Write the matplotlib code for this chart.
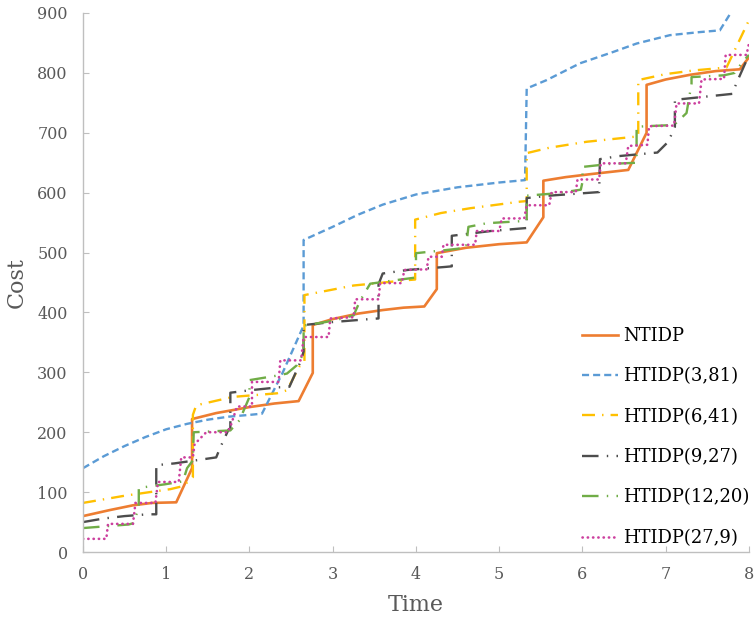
import matplotlib
matplotlib.use("Agg")
import matplotlib.pyplot as plt

# values (time, cost)
nt_t = [0, 0.32, 0.6, 0.83, 1.12, 1.31, 1.31, 1.6, 2.0, 2.3, 2.59, 2.76, 2.76, 3.0, 3.3, 3.6, 3.85, 4.1,
        4.25, 4.25, 4.6, 5.0, 5.33, 5.53, 5.53, 5.8, 6.1, 6.55, 6.77, 6.77, 7.0, 7.3, 7.6, 7.89, 8.0]
nt_c = [60, 70, 78, 82, 83, 140, 222, 232, 242, 248, 252, 299, 379, 389, 398, 404, 408, 410,
        439, 499, 508, 514, 517, 559, 620, 626, 631, 638, 700, 780, 789, 797, 803, 806, 826]

h3_t = [0, 0.25, 0.5, 0.75, 1.0, 1.25, 1.5, 1.75, 2.0, 2.15, 2.4, 2.65, 2.65, 3.0, 3.3, 3.6,
        4.0, 4.5, 5.0, 5.31, 5.33, 5.57, 5.97, 6.37, 6.65, 7.05, 7.4, 7.65, 7.78]
h3_c = [140, 160, 177, 192, 205, 214, 221, 226, 229, 231, 300, 378, 521, 543, 563, 580,
        597, 609, 617, 621, 774, 788, 816, 835, 849, 863, 868, 871, 900]

h6_t = [0, 0.5, 1.05, 1.2, 1.32, 1.32, 1.36, 1.8, 2.33, 2.45, 2.6, 2.66, 2.66, 3.25, 3.9, 3.99,
        3.99, 4.3, 4.65, 5.25, 5.33, 5.33, 5.6, 6.05, 6.6, 6.67, 6.67, 7.0, 7.33, 7.73, 8.0]
h6_c = [82, 94, 105, 110, 125, 229, 245, 259, 265, 270, 310, 317, 429, 445, 454, 455,
        555, 566, 574, 585, 586, 666, 675, 685, 693, 694, 788, 798, 804, 809, 888]

h9_t = [0, 0.25, 0.5, 0.78, 0.88, 0.88, 1.1, 1.3, 1.6, 1.65, 1.75, 1.77, 1.77, 2.0, 2.35, 2.48,
        2.62, 2.65, 2.65, 3.0, 3.45, 3.55, 3.55, 3.6, 3.9, 4.35, 4.43, 4.43, 4.9, 5.33, 5.33,
        5.6, 6.2, 6.21, 6.43, 6.9, 7.03, 7.11, 7.11, 7.8, 7.85, 8.0]
h9_c = [50, 56, 60, 63, 63, 145, 148, 152, 158, 175, 205, 206, 266, 270, 275, 276,
        320, 335, 379, 384, 389, 390, 447, 465, 471, 476, 477, 528, 536, 541, 591,
        595, 601, 656, 661, 667, 685, 710, 755, 765, 783, 830]

h12_t = [0, 0.55, 0.6, 0.67, 0.67, 0.98, 1.2, 1.25, 1.32, 1.33, 1.77, 1.88, 2.0, 2.0, 2.35,
         2.45, 2.57, 2.65, 2.65, 3.0, 3.25, 3.33, 3.45, 3.71, 3.98, 4.0, 4.0, 4.35, 4.6, 4.63,
         4.85, 5.33, 5.33, 5.69, 5.98, 6.0, 6.0, 6.33, 6.65, 6.65, 6.77, 7.1, 7.25, 7.31, 7.31,
         7.45, 7.7, 7.83, 7.92, 8.0]
h12_c = [40, 46, 48, 73, 107, 113, 118, 140, 153, 200, 203, 220, 259, 287, 295,
         298, 312, 332, 378, 386, 395, 420, 448, 453, 458, 468, 499, 504, 508, 543,
         549, 553, 595, 599, 605, 618, 643, 648, 650, 710, 711, 713, 733, 782, 793,
         794, 796, 800, 818, 830]

h27_t = [0, 0.28, 0.3, 0.6, 0.63, 0.87, 0.9, 1.15, 1.18, 1.32, 1.34, 1.48, 1.74, 1.77, 1.85,
         2.03, 2.03, 2.35, 2.37, 2.62, 2.65, 2.95, 2.97, 3.25, 3.27, 3.55, 3.57, 3.83, 3.86,
         4.13, 4.15, 4.31, 4.33, 4.71, 4.73, 5.0, 5.03, 5.3, 5.33, 5.6, 5.63, 5.92, 5.94, 6.2,
         6.22, 6.52, 6.55, 6.78, 6.8, 7.1, 7.13, 7.4, 7.43, 7.7, 7.72, 7.97, 8.0]
h27_c = [22, 22, 47, 47, 82, 82, 117, 117, 158, 158, 180, 200, 200, 209, 243,
         243, 284, 284, 320, 320, 359, 359, 390, 392, 422, 422, 449, 449, 471,
         472, 493, 493, 513, 513, 536, 536, 557, 557, 579, 579, 601, 601, 622, 622,
         649, 649, 678, 680, 711, 712, 749, 749, 789, 790, 830, 830, 849]

labels = ["NTIDP", "HTIDP(3,81)", "HTIDP(6,41)", "HTIDP(9,27)", "HTIDP(12,20)", "HTIDP(27,9)"]

plt.rcParams['font.family'] = ['DejaVu Serif']
fig = plt.figure(figsize=(7.56, 6.19), dpi=100)
ax = fig.add_axes([0.1098, 0.1082, 0.8809, 0.8708])

ax.plot(nt_t, nt_c, color='#ED7D31', lw=1.9, label=labels[0])
ax.plot(h3_t, h3_c, color='#5B9BD5', lw=1.7, linestyle=(0, (3.0, 1.7)), label=labels[1])
ax.plot(h6_t, h6_c, color='#FFC000', lw=1.7, linestyle=(0, (5.5, 3, 0.6, 3)), label=labels[2])
ax.plot(h9_t, h9_c, color='#4D4D4D', lw=1.7, linestyle=(0, (7, 3.5, 0.6, 3.5)), label=labels[3])
ax.plot(h12_t, h12_c, color='#70AD47', lw=1.7, linestyle=(0, (7, 3.5, 0.6, 3.5)), label=labels[4])
ax.plot(h27_t, h27_c, color='#CC3F9E', lw=1.9, linestyle=(0, (0.1, 1.9)),
        dash_capstyle='round', label=labels[5])

ax.set_xlim(0, 8)
ax.set_ylim(0, 900)
ax.set_xticks(range(0, 9))
ax.set_yticks(range(0, 1000, 100))
for s in ['top', 'right']:
    ax.spines[s].set_visible(False)
for s in ['left', 'bottom']:
    ax.spines[s].set_color('#BFBFBF')
    ax.spines[s].set_linewidth(1.0)
ax.tick_params(direction='in', length=4, color='#BFBFBF', labelcolor='#595959', labelsize=11.5)
ax.tick_params(axis='x', pad=10)
ax.tick_params(axis='y', pad=11)
ax.set_xlabel('Time', fontsize=16, color='#595959', labelpad=8)
ax.set_ylabel('Cost', fontsize=16, color='#595959', labelpad=7)

ax.legend(loc='upper left', bbox_to_anchor=(582 / 756, 1 - 327 / 619), bbox_transform=fig.transFigure,
          frameon=False, fontsize=13, handlelength=2.0, handletextpad=0.3, labelspacing=1.24,
          borderpad=0, borderaxespad=0)

fig.savefig('out.png', dpi=100)
